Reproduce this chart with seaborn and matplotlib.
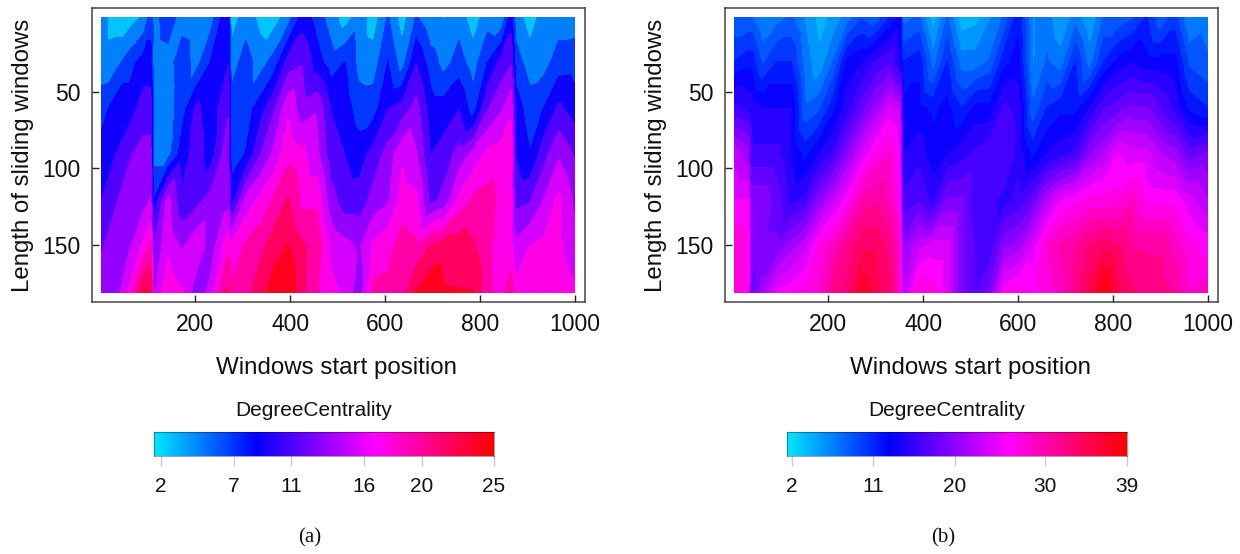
import numpy as np
import matplotlib
matplotlib.use("Agg")
import matplotlib.pyplot as plt
import matplotlib.tri as mtri
import seaborn as sns

# window lengths (rows) and window start positions (columns)
lengths = [1, 31, 61, 91, 121, 151, 181]

starts_a = [1, 31, 61, 91, 106, 112, 142, 172, 202, 232, 262, 270, 276, 306, 336, 366, 396, 426, 456, 486,
            516, 546, 576, 606, 636, 666, 696, 726, 756, 786, 816, 846, 866, 876, 906, 936, 966, 1000]
a_len1 = [4.7, 2.5, 2.5, 4, 6.8, 5, 6.8, 5, 4.7, 4.7, 9, 9, 2.5, 4.7, 3, 2.5, 4.7, 9, 7, 4.7,
          2.5, 4.7, 2.5, 6, 2.5, 6, 4, 3.5, 4.7, 2.5, 4.7, 4, 9, 4.7, 2.5, 4.7, 4.7, 4.7]
a_len31 = [4.7, 5, 7, 9, 9, 4.7, 5, 6.8, 5, 8, 9.5, 10, 4.7, 6.8, 4.7, 6.8, 11, 12, 9, 6.8,
           8, 5, 4.7, 8, 4.7, 10, 6.8, 5, 6.8, 4.7, 8, 11, 12, 6.8, 4.7, 5, 6.8, 7]
a_len61 = [6.8, 9, 9, 11, 11, 4.7, 4.7, 7, 10.5, 9, 11, 12, 6.8, 6.8, 9, 12, 16, 13, 14, 10,
           9, 6.8, 7, 10, 11, 13, 9, 9, 10, 6.8, 12, 14, 16, 9, 6.8, 8, 10.5, 9]
a_len91 = [9, 10, 12, 13, 13, 5, 5, 9, 11, 9, 13, 13, 7, 8, 12, 15, 18, 17, 15, 11,
           10, 9, 11, 13, 16, 14.5, 10, 11, 13, 15, 17, 17.5, 18, 10, 8, 11.5, 14, 12]
a_len121 = [10, 12, 13, 13.5, 14.5, 8, 15, 10.5, 11.5, 13, 13.5, 13.5, 9, 15, 17, 19, 21, 18, 18, 13,
            11, 11, 13, 14, 17.5, 17, 11.5, 13, 17, 19, 19.5, 18, 17, 11.5, 12, 14.5, 17, 14]
a_len151 = [12, 13, 14, 17, 19, 12, 16, 14, 16, 13, 17, 18, 17, 19, 20, 22, 23, 21, 20, 16,
            15, 14, 17, 18, 19.5, 19, 21, 22, 22, 21, 19, 17.5, 17, 15, 16.5, 17, 17, 15]
a_len181 = [13, 13, 17, 23, 23, 14, 18, 16.5, 13, 15, 21, 21, 19, 20, 22, 24, 25, 21, 19, 17,
            16, 13, 19, 19, 20, 23, 24.5, 23, 23, 23, 19, 18, 20, 17, 18, 17, 18, 17]

starts_b = [1, 31, 37, 61, 91, 121, 151, 181, 211, 241, 271, 301, 331, 351, 358, 391, 421, 451, 481,
            511, 541, 571, 601, 631, 661, 691, 721, 751, 781, 811, 841, 871, 901, 931, 961, 1000]
b_len1 = [8, 8, 8, 6, 7, 8, 6, 4, 5, 7, 9, 8, 11, 13, 7, 8, 3.5, 8, 3.5,
          4, 6, 8, 12, 6, 7, 4.5, 7, 4.5, 8, 8, 9, 11, 8, 10, 6, 7]
b_len31 = [11, 12, 12, 9, 11, 11, 7, 5, 8, 13, 14, 16, 17, 14, 11, 12, 7, 11, 7,
           7, 8, 12, 13, 6, 8, 7, 11, 7, 11, 13, 14, 13, 13, 13, 9, 8]
b_len61 = [16, 15, 15, 14, 14, 14, 8, 9, 12, 15, 18, 21, 24, 23, 13, 13, 12, 13, 11,
           13, 13, 16, 15, 8, 11, 12, 12, 14, 17, 18, 19, 19, 17, 15, 12, 11]
b_len91 = [23, 21, 16, 16, 16, 14, 12, 14, 16, 20, 24, 27, 28, 25, 14, 15, 13, 14, 15,
           16, 17, 17, 15, 12, 14, 15, 16, 20, 22, 25, 24, 24, 22, 21, 18, 19]
b_len121 = [25, 25, 20, 20, 18, 15, 16, 20, 23, 26, 30, 31, 29, 26, 16, 17, 15, 19, 19,
            16, 16, 15, 16, 18, 22, 25, 26, 27, 27, 27, 29, 26, 26, 26, 24, 22]
b_len151 = [28, 27, 20, 19, 19, 21, 23, 27, 29, 32, 34, 34, 32, 28, 20, 23, 24, 24, 19,
            17, 16, 20, 21, 24, 28, 30, 31, 33, 34, 33, 31, 31, 31, 29, 27, 26]
b_len181 = [27, 27, 18, 21, 25, 26, 27, 28, 32, 33, 37, 35, 33, 28, 22, 28, 27, 24, 19,
            17, 19, 26, 27, 26, 27, 29, 32, 35, 39, 35, 33, 32, 32, 31, 28, 29]

x_ticks = [200, 400, 600, 800, 1000]
y_ticks = [50, 100, 150]
cbar_ticks_a = [2, 7, 11, 16, 20, 25]
cbar_ticks_b = [2, 11, 20, 30, 39]

sns.set_style("white")
plt.rcParams['font.family'] = ['Liberation Sans', 'DejaVu Sans']

W, H = 1240, 554
fig = plt.figure(figsize=(W / 100, H / 100), dpi=100)
# blue sits at 0.3 and magenta at 0.65 in the legend
cmap = matplotlib.colors.LinearSegmentedColormap.from_list(
    "degree", [(0, (0, 0.9, 1)), (0.3, (0, 0, 1)), (0.65, (1, 0, 1)), (1, (1, 0, 0))])


def px_axes(left, top, right, bottom):
    return fig.add_axes([left / W, 1 - bottom / H, (right - left) / W, (bottom - top) / H])


def diagonal_mesh(starts):
    # split each cell along the window end (start + length stays constant)
    xx, yy = np.meshgrid(starts, lengths)
    nc = len(starts)
    triangles = []
    for i in range(len(lengths) - 1):
        for j in range(nc - 1):
            a = i * nc + j
            b = a + 1
            c = a + nc
            d = c + 1
            triangles.append([a, b, c])
            triangles.append([b, d, c])
    return mtri.Triangulation(xx.ravel(), yy.ravel(), triangles)


def draw_panel(left, starts, rows, vmax, n_bands):
    right = left + 493
    ax = px_axes(left, 8, right, 302)
    grid = np.array(rows)
    levels = np.linspace(1.5, vmax, n_bands + 1)
    ax.tricontourf(diagonal_mesh(starts), grid.ravel(), levels=levels, cmap=cmap, vmin=1.5, vmax=vmax)
    ax.set_xlim(-18, 1022)
    ax.set_ylim(187.3, -4.9)
    ax.set_xticks(x_ticks)
    ax.set_yticks(y_ticks)
    ax.tick_params(axis='both', direction='in', length=5, width=1, color='#222222',
                   labelsize=16.5, pad=8, labelcolor='#111111', bottom=True, left=True)
    for side in ax.spines.values():
        side.set_color('#444444')
        side.set_linewidth(1.1)
    ax.set_ylabel('Length of sliding windows', fontsize=17.3, color='#111111', labelpad=6)
    fig.text((left + 245) / W, 1 - 368 / H, 'Windows start position', fontsize=17.4,
             color='#111111', ha='center', va='center')


def draw_legend(left, ticks, vmax, caption, caption_x):
    ax = px_axes(left, 432, left + 340, 456)
    strip = np.linspace(1.5, vmax, 340).reshape(1, -1)
    sns.heatmap(strip, ax=ax, cmap=cmap, vmin=1.5, vmax=vmax, cbar=False,
                xticklabels=False, yticklabels=False, rasterized=True)
    ax.set_xticks([(t - 1.5) / (vmax - 1.5) * 340 for t in ticks])
    ax.set_xticklabels([str(t) for t in ticks])
    ax.set_yticks([])
    ax.tick_params(axis='x', direction='out', length=7, width=1, color='#cccccc',
                   labelsize=15, pad=8, labelcolor='#111111', bottom=True)
    for side in ax.spines.values():
        side.set_visible(True)
        side.set_color((0, 0, 0, 0.35))
        side.set_linewidth(0.8)
    fig.text((left + 160) / W, 1 - 411 / H, 'DegreeCentrality', fontsize=15, color='#111111',
             ha='center', va='center')
    fig.text(caption_x / W, 1 - 538 / H, caption, fontsize=15, color='#111111', ha='center',
             va='center', family=['Liberation Serif', 'DejaVu Serif'])


draw_panel(92, starts_a, [a_len1, a_len31, a_len61, a_len91, a_len121, a_len151, a_len181], 25, 11)
draw_panel(725, starts_b, [b_len1, b_len31, b_len61, b_len91, b_len121, b_len151, b_len181], 39, 24)
draw_legend(154, cbar_ticks_a, 25, '(a)', 310)
draw_legend(787, cbar_ticks_b, 39, '(b)', 943)

fig.savefig('out.png', dpi=100)
